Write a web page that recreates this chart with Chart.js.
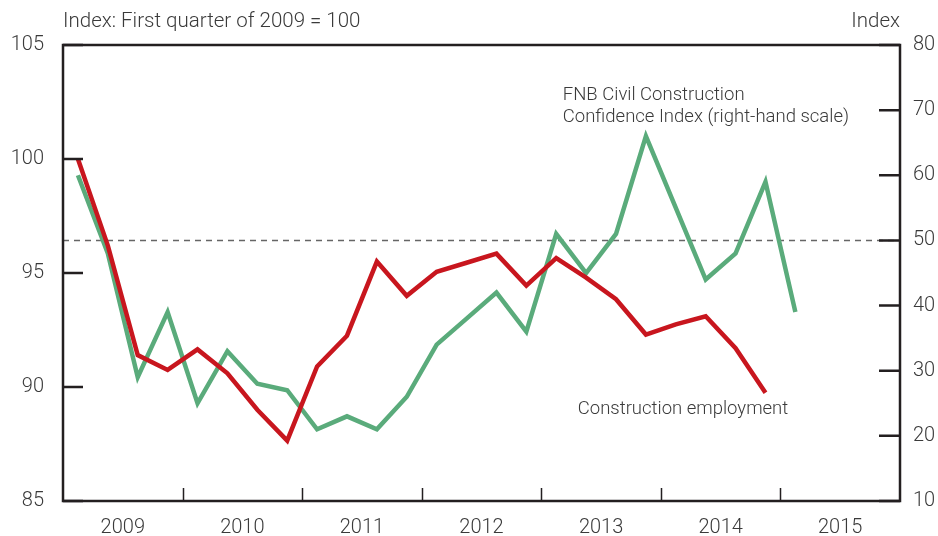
<!DOCTYPE html>
<html>
<head>
<meta charset="utf-8">
<script src="https://cdn.jsdelivr.net/npm/chart.js@4/dist/chart.umd.min.js"></script>
<style>
  body { margin: 0; background: #fff; }
  #wrap { width: 938px; height: 536px; }
</style>
</head>
<body>
<div id="wrap"><canvas id="chart" width="938" height="536"></canvas></div>
<script>
// x-as: kwartaal ke-n sejak 2009 (0..28), label tahun di tengah tiap tahun
const years = ['2009', '2010', '2011', '2012', '2013', '2014', '2015'];
const leftTicks = [85, 90, 95, 100, 105];
const rightTicks = [10, 20, 30, 40, 50, 60, 70, 80];

// Construction employment (skala kiri), 2009K1 - 2014K4
const employment = [100, 96.2, 91.4, 90.75, 91.65, 90.6, 89.0, 87.65,
  90.9, 92.25, 95.5, 94.0, 95.05, 95.45, 95.85, 94.45,
  95.65, 94.8, 93.85, 92.3, 92.75, 93.1, 91.7, 89.75];

// FNB Civil Construction Confidence Index (skala kanan), 2009K1 - 2015K1
const confidence = [60, 48, 29, 39, 25, 33, 28, 27,
  21, 23, 21, 26, 34, 38, 42, 36,
  51, 45, 51, 66, 55, 44, 48, 59, 39];

const neutralLevel = 50;

const RED = '#c8161e';
const GREEN = '#5aab7b';
const INK = '#231f20';
const TEXT = '#3a3a3a';
const FONT = 'Roboto, "Liberation Sans", sans-serif';

function toPoints(values) {
  return values.map((v, i) => ({ x: i + 0.5, y: v }));
}

// Plugin untuk bingkai, tick ke dalam, dan teks label
const framePlugin = {
  id: 'frame',
  afterDraw(chart) {
    const ctx = chart.ctx;
    const area = chart.chartArea;
    const x = chart.scales.x, y = chart.scales.y, y2 = chart.scales.y2;
    ctx.save();
    ctx.strokeStyle = INK;

    // tick ke dalam di batas tahun
    ctx.beginPath();
    for (let q = 4; q < 28; q += 4) {
      const px = Math.round(x.getPixelForValue(q)) + 0.5;
      ctx.moveTo(px, area.bottom);
      ctx.lineTo(px, area.bottom - 13);
    }
    ctx.lineWidth = 1.5;
    ctx.stroke();

    ctx.lineWidth = 2.5;
    ctx.beginPath();
    leftTicks.forEach(v => {
      const py = y.getPixelForValue(v);
      ctx.moveTo(area.left, py);
      ctx.lineTo(area.left + 20, py);
    });
    rightTicks.forEach(v => {
      const py = y2.getPixelForValue(v);
      ctx.moveTo(area.right, py);
      ctx.lineTo(area.right - 21, py);
    });
    ctx.stroke();

    ctx.strokeRect(area.left, area.top, area.right - area.left, area.bottom - area.top);

    // judul sumbu
    ctx.fillStyle = TEXT;
    ctx.font = '300 20.5px ' + FONT;
    ctx.textBaseline = 'middle';
    ctx.textAlign = 'left';
    ctx.fillText('Index: First quarter of 2009 = 100', area.left, 22);
    ctx.textAlign = 'right';
    ctx.fillText('Index', area.right, 22);

    // label seri
    ctx.font = '300 18.5px ' + FONT;
    ctx.textAlign = 'left';
    ctx.fillText('FNB Civil Construction', x.getPixelForValue(16.72), y2.getPixelForValue(72.3));
    ctx.fillText('Confidence Index (right-hand scale)', x.getPixelForValue(16.72), y2.getPixelForValue(68.9));
    ctx.fillText('Construction employment', x.getPixelForValue(17.22), y.getPixelForValue(89.0));
    ctx.restore();
  }
};

const ctx = document.getElementById('chart').getContext('2d');
new Chart(ctx, {
  type: 'line',
  data: {
    datasets: [
      {
        label: 'Construction employment',
        data: toPoints(employment),
        yAxisID: 'y',
        borderColor: RED,
        borderWidth: 4.5,
        pointRadius: 0,
        tension: 0,
        order: 1
      },
      {
        label: 'FNB Civil Construction Confidence Index (right-hand scale)',
        data: toPoints(confidence),
        yAxisID: 'y2',
        borderColor: GREEN,
        borderWidth: 4.5,
        pointRadius: 0,
        tension: 0,
        order: 2
      },
      {
        label: 'Neutral',
        data: [{ x: 0, y: neutralLevel }, { x: 28, y: neutralLevel }],
        yAxisID: 'y2',
        borderColor: '#666666',
        borderWidth: 1.5,
        borderDash: [6, 5],
        pointRadius: 0,
        order: 3
      }
    ]
  },
  options: {
    responsive: false,
    animation: false,
    layout: { padding: { top: 45, left: 0, right: 0, bottom: 0 } },
    plugins: {
      legend: { display: false },
      tooltip: { enabled: false }
    },
    scales: {
      x: {
        type: 'linear',
        min: 0,
        max: 28,
        grid: { display: false, drawTicks: false },
        border: { display: false },
        afterBuildTicks: axis => { axis.ticks = years.map((yr, i) => ({ value: 2 + 4 * i })); },
        afterFit: axis => { axis.height = 35; },
        ticks: {
          autoSkip: false,
          maxRotation: 0,
          padding: 15,
          color: TEXT,
          font: { family: FONT, size: 20, weight: 300 },
          callback: v => years[(v - 2) / 4]
        }
      },
      y: {
        position: 'left',
        min: 85,
        max: 105,
        grid: { display: false, drawTicks: false },
        border: { display: false },
        afterBuildTicks: axis => { axis.ticks = leftTicks.map(v => ({ value: v })); },
        afterFit: axis => { axis.width = 63; },
        ticks: {
          padding: 19,
          color: TEXT,
          font: { family: FONT, size: 20, weight: 300 }
        }
      },
      y2: {
        position: 'right',
        min: 10,
        max: 80,
        grid: { display: false, drawTicks: false },
        border: { display: false },
        afterBuildTicks: axis => { axis.ticks = rightTicks.map(v => ({ value: v })); },
        afterFit: axis => { axis.width = 38; },
        ticks: {
          padding: 13,
          color: TEXT,
          font: { family: FONT, size: 20, weight: 300 }
        }
      }
    }
  },
  plugins: [framePlugin]
});
</script>
</body>
</html>
